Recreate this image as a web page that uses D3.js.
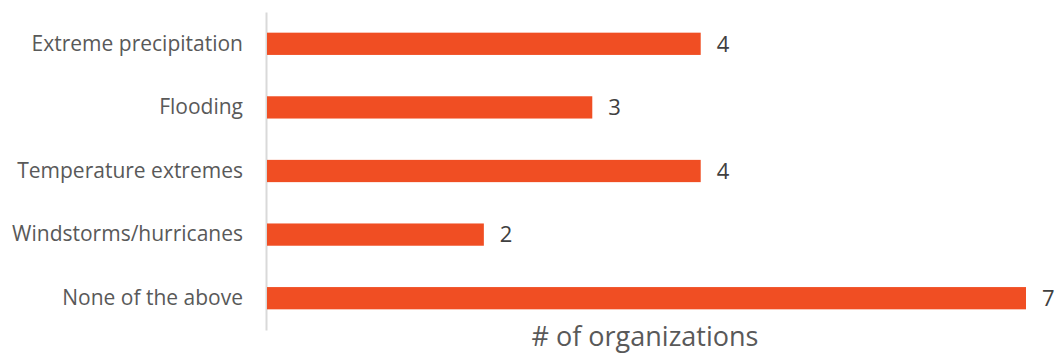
<!DOCTYPE html>
<html>
<head>
<meta charset="utf-8">
<script src="https://cdn.jsdelivr.net/npm/d3@7"></script>
<style>
  body { margin: 0; background: #fff; }
</style>
</head>
<body>
<div id="chart"></div>
<script>
const categories = ["Extreme precipitation", "Flooding", "Temperature extremes", "Windstorms/hurricanes", "None of the above"];
const values = [4, 3, 4, 2, 7];
const axisTitle = "# of organizations";

const W = 1058, H = 356;
const margin = { top: 12, right: 32, bottom: 26, left: 266 };
const width = W - margin.left - margin.right,
      height = H - margin.top - margin.bottom;

const svg = d3.select("#chart").append("svg")
    .attr("width", W)
    .attr("height", H);

const g = svg.append("g")
    .attr("transform", `translate(${margin.left},${margin.top})`);

const x = d3.scaleLinear()
    .domain([0, 7])
    .range([1, 760]);

const y = d3.scaleBand()
    .domain(categories)
    .range([0, height])
    .paddingInner(0.65)
    .paddingOuter(0.325);

// category axis
const yAxis = g.append("g")
    .call(d3.axisLeft(y).tickSize(0).tickPadding(23));
yAxis.select(".domain")
    .attr("stroke", "#d9d9d9")
    .attr("stroke-width", 2);
yAxis.selectAll("text")
    .style("font-family", "'Open Sans', sans-serif")
    .style("font-size", "21px")
    .attr("fill", "#595959");

// bars
g.selectAll(".bar")
    .data(values)
    .enter().append("rect")
    .attr("class", "bar")
    .attr("x", x(0))
    .attr("y", (d, i) => y(categories[i]))
    .attr("width", d => x(d) - x(0))
    .attr("height", y.bandwidth())
    .attr("fill", "#f04e23");

// value labels
g.selectAll(".val")
    .data(values)
    .enter().append("text")
    .attr("class", "val")
    .attr("x", d => x(d) + 16)
    .attr("y", (d, i) => y(categories[i]) + y.bandwidth() / 2)
    .attr("dy", "0.35em")
    .style("font-family", "'Open Sans', sans-serif")
    .style("font-size", "22px")
    .attr("fill", "#404040")
    .text(d => d);

// axis title
svg.append("text")
    .attr("x", 645)
    .attr("y", 346)
    .attr("text-anchor", "middle")
    .style("font-family", "'Open Sans', sans-serif")
    .style("font-size", "27px")
    .attr("fill", "#595959")
    .text(axisTitle);
</script>
</body>
</html>
